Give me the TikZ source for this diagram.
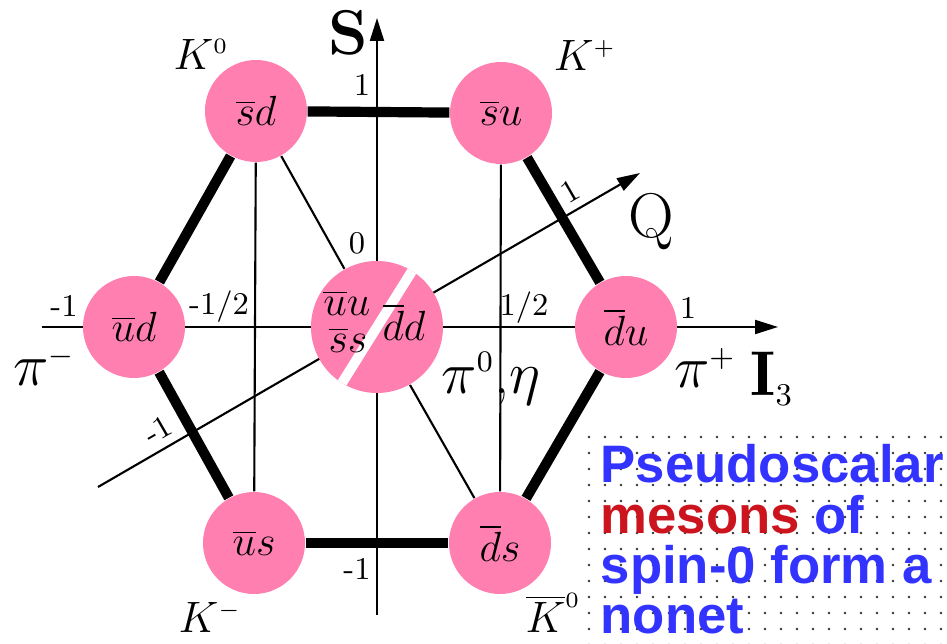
\RequirePackage{fix-cm}
\documentclass[tikz,border=0pt]{standalone}
\usepackage{fontspec}
\usepackage{tikz}
\usetikzlibrary{arrows.meta,backgrounds}
\newfontfamily\boxfont{Liberation Sans}
\definecolor{mesonpink}{RGB}{255,128,176}
\definecolor{nonetblue}{RGB}{51,51,255}
\definecolor{nonetred}{RGB}{204,20,30}
\definecolor{dotgrey}{RGB}{50,50,50}
\tikzset{
  quark/.style={circle, fill=mesonpink, minimum size=10.2mm, inner sep=0pt, font=\fontsize{12}{12}\selectfont},
  inquark/.style={inner sep=0pt, font=\fontsize{12}{12}\selectfont},
  axis/.style={line width=0.6pt, -{Triangle[length=2.3mm,width=1.4mm]}},
  hexside/.style={line width=2.9pt},
  rung/.style={line width=0.6pt},
  tick/.style={font=\fontsize{9}{9}\selectfont, inner sep=0pt},
  pname/.style={font=\fontsize{12.5}{12.5}\selectfont, inner sep=0pt},
  bigname/.style={font=\fontsize{17}{17}\selectfont, inner sep=0pt},
  axname/.style={font=\fontsize{18}{18}\selectfont\bfseries, inner sep=0pt},
}
\newcommand{\qbar}[2]{$\overline{#1}#2$}
\newcommand{\hadron}[2]{$#1^{\scriptscriptstyle #2}$}

\begin{document}
\begin{tikzpicture}
  \useasboundingbox (-3.77,-3.17) rectangle (5.70,3.27);
  \foreach \i in {0,...,22}{\foreach \j in {0,...,13}{\fill[dotgrey] (2.12+0.16*\i,-1.10-0.16*\j) circle (0.013);}}
  \node[quark] (sd) at (-1.21,2.16) {\qbar{s}{d}};
  \node[quark] (su) at (1.24,2.14) {\qbar{s}{u}};
  \node[quark] (ud) at (-2.43,0) {\qbar{u}{d}};
  \node[quark] (du) at (2.49,0) {\qbar{d}{u}};
  \node[quark] (us) at (-1.23,-2.16) {\qbar{u}{s}};
  \node[quark] (ds) at (1.23,-2.16) {\qbar{d}{s}};
  \node[quark,minimum size=13.2mm] (mid) at (0,0) {};
  \begin{scope}
    \clip (mid.center) circle (0.66);
    \fill[white,rotate=58] (-0.8,-0.05) rectangle (0.8,0.05);
  \end{scope}
  \node[inquark] (uu) at (-0.30,0.24) {\qbar{u}{u}};
  \node[inquark] (ss) at (-0.29,-0.13) {\qbar{s}{s}};
  \node[inquark] (dd) at (0.27,0.05) {\qbar{d}{d}};
  \coordinate (sbot) at (0,-2.88);
  \coordinate (stop) at (0,3.09);
  \coordinate (ileft) at (-3.35,0);
  \coordinate (iright) at (4.01,0);
  \coordinate (qlow) at (-2.79,-1.60);
  \coordinate (qhigh) at (2.63,1.54);
  \begin{scope}[on background layer]
    \draw[axis] (sbot) -- (stop);
    \draw[axis] (ileft) -- (iright);
    \draw[axis] (qlow) -- (qhigh);
  \end{scope}
  \foreach \a/\b in {sd/su,su/du,du/ds,ds/us,us/ud,ud/sd}{\draw[hexside] (\a) -- (\b);}
  \foreach \a/\b in {sd/us,su/ds,sd/mid,mid/ds}{\draw[rung] (\a) -- (\b);}
  \node[tick] (s1) at (-0.15,2.42) {1};
  \node[tick] (s0) at (-0.20,0.84) {0};
  \node[tick] (sm1) at (-0.20,-2.42) {-1};
  \node[tick] (im1) at (-3.13,0.21) {-1};
  \node[tick] (imh) at (-1.58,0.20) {-1/2};
  \node[tick] (ih) at (1.47,0.19) {1/2};
  \node[tick] (i1) at (3.11,0.19) {1};
  \node[tick,rotate=30] (q1) at (1.93,1.36) {1};
  \node[tick,rotate=30] (qm1) at (-2.19,-1.03) {-1};
  \node[pname] (k0) at (-1.76,2.73) {\hadron{K}{0}};
  \node[pname] (kp) at (2.08,2.72) {\hadron{K}{+}};
  \node[pname] (km) at (-1.67,-2.90) {\hadron{K}{-}};
  \node[pname] (kb) at (1.76,-2.86) {$\overline{K}^{\scriptscriptstyle 0}$};
  \node[bigname] (pim) at (-3.33,-0.39) {\hadron{\pi}{-}};
  \node[bigname] (pip) at (3.28,-0.41) {\hadron{\pi}{+}};
  \node[bigname] (pi0) at (1.14,-0.52) {\hadron{\pi}{0},$\eta$};
  \node[axname] (slab) at (-0.29,2.94) {S};
  \node[axname] (ilab) at (3.95,-0.52) {$\mathbf{I}_{\scriptscriptstyle 3}$};
  \node[font=\fontsize{18}{18}\selectfont, inner sep=0pt] (qlab) at (2.74,1.05) {Q};
  \node[anchor=north west, align=left, inner sep=0pt, text=nonetblue, font=\boxfont\bfseries\fontsize{15}{14.3}\selectfont] (blurb) at (2.23,-1.17) {Pseudoscalar\\\textcolor{nonetred}{mesons} of\\spin-0 form a\\nonet};
\end{tikzpicture}
\end{document}
